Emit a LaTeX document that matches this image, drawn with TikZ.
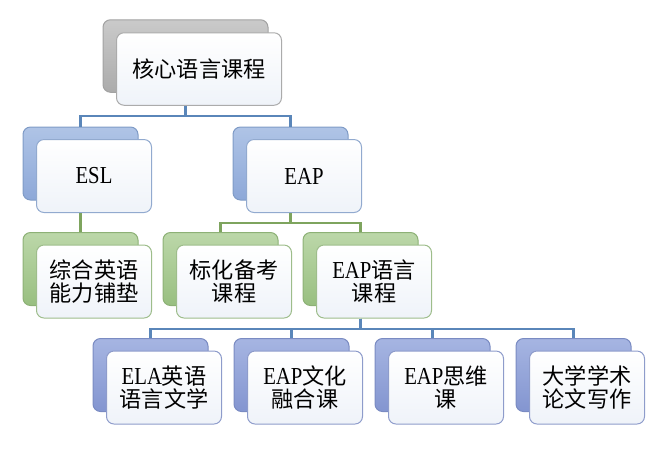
\documentclass[tikz,border=0pt]{standalone}
\usepackage{fontspec}
\setmainfont{Liberation Serif}[Scale=1.1, FakeStretch=0.85]
\newfontfamily\cjk{Noto Sans CJK SC}
\definecolor{graytop}{HTML}{CACACA}
\definecolor{graybot}{HTML}{ABABAB}
\definecolor{grayedge}{HTML}{A2A2A2}
\definecolor{bluetop}{HTML}{AFC4E6}
\definecolor{bluebot}{HTML}{8DA8D8}
\definecolor{blueedge}{HTML}{7F9BC6}
\definecolor{greentop}{HTML}{BCD7A9}
\definecolor{greenbot}{HTML}{98BF80}
\definecolor{greenedge}{HTML}{8DB176}
\definecolor{violettop}{HTML}{A6B5E2}
\definecolor{violetbot}{HTML}{8395D0}
\definecolor{violetedge}{HTML}{7A8BC2}
\definecolor{frontbot}{HTML}{EFF3F9}
\definecolor{linkblue}{HTML}{5A86B9}
\definecolor{linkgreen}{HTML}{7EA45E}
\tikzset{
  card/.style={rounded corners=4.5pt, minimum width=69pt,
    minimum height=43.8pt, inner sep=0pt, line width=.6pt},
  grayback/.style={card, draw=grayedge, top color=graytop, bottom color=graybot},
  blueback/.style={card, draw=blueedge, top color=bluetop, bottom color=bluebot},
  greenback/.style={card, draw=greenedge, top color=greentop, bottom color=greenbot},
  violetback/.style={card, draw=violetedge, top color=violettop, bottom color=violetbot},
  front/.style={card, top color=white, bottom color=frontbot, align=center,
    font=\fontsize{13.3}{13.6}\selectfont},
  grayfront/.style={front, draw=grayedge!90},
  bluefront/.style={front, draw=blueedge!85},
  greenfront/.style={front, draw=greenedge!85},
  violetfront/.style={front, draw=violetedge!85},
  bluelink/.style={draw=linkblue, line width=1.3pt},
  greenlink/.style={draw=linkgreen, line width=1.3pt}
}
\begin{document}
\begin{tikzpicture}[x=.6pt, y=-.6pt]
  \useasboundingbox (0,0) rectangle (666,454);
  % top level
  \node (top) at (185.5,56) [grayback, minimum width=99pt, minimum height=43.5pt] {};
  \node (topf) at (199,69) [grayfront, minimum width=99pt, minimum height=43.5pt]
    {\cjk 核心语言课程};
  % second level
  \node (esl) at (80.5,163.5) [blueback] {};
  \node (eslf) at (94,176) [bluefront] {ESL};
  \node (eap) at (290.5,163.5) [blueback] {};
  \node (eapf) at (304,176) [bluefront] {EAP};
  % third level
  \node (zonghe) at (80.5,269) [greenback] {};
  \node (zonghef) at (94,281.5) [greenfront] {\cjk 综合英语\\\cjk 能力铺垫};
  \node (biaohua) at (220.5,269) [greenback] {};
  \node (biaohuaf) at (234,281.5) [greenfront] {\cjk 标化备考\\\cjk 课程};
  \node (eapyy) at (360.5,269) [greenback] {};
  \node (eapyyf) at (374,281.5) [greenfront] {EAP{\cjk 语言}\\\cjk 课程};
  % fourth level
  \node (ela) at (150.5,375) [violetback] {};
  \node (elaf) at (164,387.5) [violetfront] {ELA{\cjk 英语}\\\cjk 语言文学};
  \node (wenhua) at (291.5,375) [violetback] {};
  \node (wenhuaf) at (305,387.5) [violetfront] {EAP{\cjk 文化}\\\cjk 融合课};
  \node (siwei) at (432.5,375) [violetback] {};
  \node (siweif) at (446,387.5) [violetfront] {EAP{\cjk 思维}\\\cjk 课};
  \node (xiezuo) at (573.5,375) [violetback] {};
  \node (xiezuof) at (587,387.5) [violetfront] {\cjk 大学学术\\\cjk 论文写作};
  % connectors
  \draw[bluelink] (top |- topf.south) -- ++(0,10) -| (esl.north);
  \draw[bluelink] (top |- topf.south) -- ++(0,10) -| (eap.north);
  \draw[greenlink] (esl |- eslf.south) -- (zonghe.north);
  \draw[greenlink] (eap |- eapf.south) -- ++(0,10) -| (biaohua.north);
  \draw[greenlink] (eap |- eapf.south) -- ++(0,10) -| (eapyy.north);
  \draw[bluelink] (eapyy |- eapyyf.south) -- ++(0,10.5) -| (ela.north);
  \draw[bluelink] (eapyy |- eapyyf.south) -- ++(0,10.5) -| (wenhua.north);
  \draw[bluelink] (eapyy |- eapyyf.south) -- ++(0,10.5) -| (siwei.north);
  \draw[bluelink] (eapyy |- eapyyf.south) -- ++(0,10.5) -| (xiezuo.north);
\end{tikzpicture}
\end{document}
